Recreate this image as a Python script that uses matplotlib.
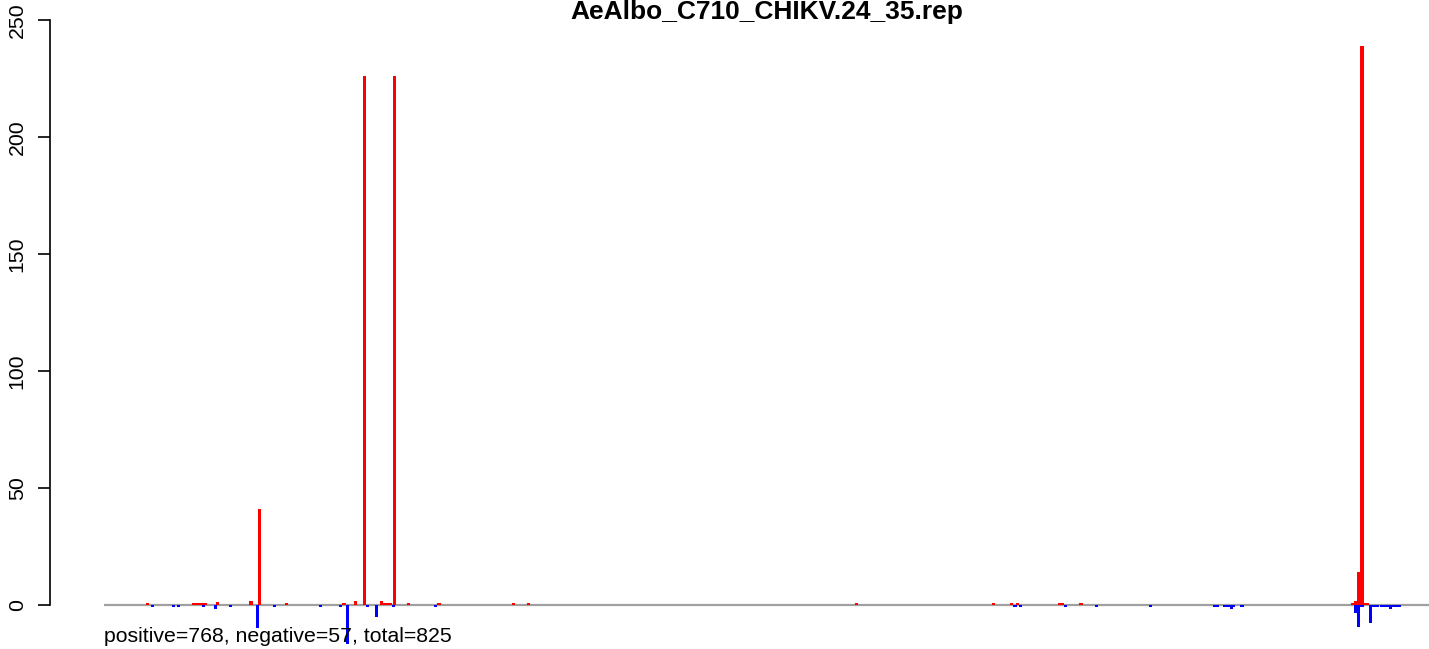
import matplotlib
matplotlib.use('Agg')
import matplotlib.pyplot as plt

plt.rcParams['font.family'] = ['Liberation Sans', 'DejaVu Sans']

title = 'AeAlbo_C710_CHIKV.24_35.rep'
genome_len = 11826
bin_w = 27

# positive-strand counts (position in nt, count)
pos_x = [384, 803, 830, 857, 884, 910, 1017, 1312, 1392, 1633, 2142, 2249, 2329,
         2481, 2499, 2526, 2553, 2597, 2722, 2990, 3659, 3793, 6720, 7943, 8104,
         8157, 8532, 8559, 8720, 11147, 11174, 11201, 11228, 11254, 11281]
pos_y = [1, 1, 1, 1, 1, 1, 1.3, 1.7, 41, 1, 1, 1.7, 226,
         1.7, 1, 1, 1, 226, 1, 1, 1, 1, 1, 1, 1,
         1, 1, 1, 1, 1, 1.7, 14, 239, 1, 1]

# negative-strand counts
neg_x = [437, 616, 669, 884, 991, 1133, 1366, 1526, 1928, 2115, 2169, 2356, 2428,
         2588, 2963, 8131, 8184, 8586, 8854, 9336, 9916, 9942, 10005, 10032, 10059,
         10085, 10157, 11174, 11201, 11228, 11308, 11335, 11362, 11406, 11433, 11460,
         11486, 11513, 11540, 11567]
neg_y = [-1, -1, -1, -1, -1.8, -1, -10, -1, -1, -1, -16.5, -1, -5,
         -1, -1, -1, -1, -1, -1, -1, -1, -1, -1, -1, -1.8,
         -1, -1, -3.5, -9.5, -1, -7.5, -1, -1, -1, -1, -1,
         -1.6, -1, -1, -1]

n_pos, n_neg = 768, 57

fig = plt.figure(figsize=(14.29, 6.49), dpi=100)
ax = fig.add_axes([104 / 1429, 4 / 649, 1325 / 1429, 625 / 649])

ax.axhline(0, color='#a0a0a0', lw=1.6, zorder=1)
ax.bar(pos_x, pos_y, width=bin_w, color='#ff0000', linewidth=0, zorder=2)
ax.bar(neg_x, neg_y, width=bin_w, color='#0000ff', linewidth=0, zorder=2)

ax.set_xlim(0, genome_len)
ax.set_ylim(-17.1, 250)

for s in ['top', 'right', 'bottom']:
    ax.spines[s].set_visible(False)
ax.spines['left'].set_position(('outward', 39))
ax.spines['left'].set_bounds(0, 250)
ax.spines['left'].set_linewidth(1.2)
ax.set_xticks([])
ax.set_yticks([0, 50, 100, 150, 200, 250])
ax.tick_params(axis='y', length=8.6, width=1.2, pad=8, labelsize=15.3)
for lab in ax.get_yticklabels():
    lab.set_rotation(90)
    lab.set_va('center')

fig.text(766.5 / 1429, 1 - 19 / 649, title, fontsize=19, fontweight='bold',
         ha='center', va='baseline')
ax.text(0, -13.3, 'positive=%d, negative=%d, total=%d' % (n_pos, n_neg, n_pos + n_neg),
        fontsize=15.3, ha='left', va='center')

fig.savefig('out.png', dpi=100)
